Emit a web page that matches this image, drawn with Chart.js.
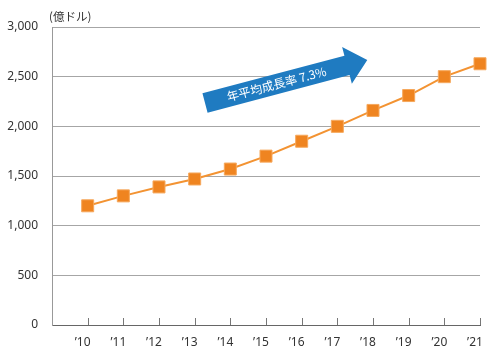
<!DOCTYPE html>
<html><head><meta charset="utf-8">
<script src="https://cdn.jsdelivr.net/npm/chart.js@4/dist/chart.umd.min.js"></script>
<style>html,body{margin:0;padding:0;background:#fff}#wrap{width:500px;height:358px}</style>
</head><body><div id="wrap"><canvas id="c" width="500" height="358"></canvas></div>
<script>
const years = [10, 11, 12, 13, 14, 15, 16, 17, 18, 19, 20, 21];
const yearLabels = ['’10', '’11', '’12', '’13', '’14', '’15', '’16', '’17', '’18', '’19', '’20', '’21'];
const values = [1200, 1300, 1390, 1470, 1570, 1700, 1850, 2000, 2160, 2310, 2500, 2630];
const yTicks = [0, 500, 1000, 1500, 2000, 2500, 3000];
const unitLabel = '(億ドル)';
const arrowText = '年平均成長率 7.3%';
// arrow anchor in data units (tail centre -> tip)
const arrowFrom = { x: 13.29, y: 2235 };
const arrowTo = { x: 17.84, y: 2668 };

const jpFont = '"Noto Sans CJK JP", "Noto Sans", sans-serif';
const numFont = '"Noto Sans", "Liberation Sans", sans-serif';

const deco = {
  id: 'deco',
  afterDraw(chart) {
    const { ctx, scales: { x, y }, chartArea } = chart;
    ctx.save();
    // upward tick marks on x axis
    ctx.strokeStyle = '#777';
    ctx.lineWidth = 1;
    years.forEach(v => {
      const px = Math.round(x.getPixelForValue(v)) + 0.5;
      ctx.beginPath();
      ctx.moveTo(px, chartArea.bottom);
      ctx.lineTo(px, chartArea.bottom - 7);
      ctx.stroke();
    });
    // unit label
    ctx.fillStyle = '#333';
    ctx.font = '11.5px ' + jpFont;
    ctx.textBaseline = 'middle';
    ctx.textAlign = 'left';
    ctx.fillText(unitLabel, 49, 17);
    // arrow
    const x0 = x.getPixelForValue(arrowFrom.x), y0 = y.getPixelForValue(arrowFrom.y);
    const x1 = x.getPixelForValue(arrowTo.x), y1 = y.getPixelForValue(arrowTo.y);
    const ang = Math.atan2(y1 - y0, x1 - x0);
    const len = Math.hypot(x1 - x0, y1 - y0);
    const bw = 10, hl = 21, hw = 19;
    ctx.translate(x0, y0);
    ctx.rotate(ang);
    ctx.fillStyle = '#1F7BC1';
    ctx.beginPath();
    ctx.moveTo(0, -bw);
    ctx.lineTo(len - hl, -bw);
    ctx.lineTo(len - hl, -hw);
    ctx.lineTo(len, 0);
    ctx.lineTo(len - hl, hw);
    ctx.lineTo(len - hl, bw);
    ctx.lineTo(0, bw);
    ctx.closePath();
    ctx.fill();
    ctx.fillStyle = '#fff';
    ctx.font = '12px ' + jpFont;
    ctx.textAlign = 'center';
    ctx.textBaseline = 'middle';
    ctx.fillText(arrowText, 74, 0);
    ctx.restore();
  }
};

new Chart(document.getElementById('c'), {
  type: 'line',
  data: {
    datasets: [{
      data: years.map((v, i) => ({ x: v, y: values[i] })),
      borderColor: '#F39332',
      borderWidth: 2,
      backgroundColor: '#EF8420',
      pointBackgroundColor: '#EF8420',
      pointBorderColor: '#F6A95E',
      pointBorderWidth: 1,
      pointStyle: 'rect',
      pointRadius: 8.5,
      tension: 0,
      clip: false
    }]
  },
  options: {
    responsive: false,
    animation: false,
    devicePixelRatio: 1,
    layout: { padding: { top: 27, right: 20, left: 0, bottom: 0 } },
    plugins: { legend: { display: false }, tooltip: { enabled: false } },
    scales: {
      x: {
        type: 'linear',
        min: 9, max: 21,
        afterBuildTicks(s) { s.ticks = [9].concat(years).map(v => ({ value: v })); },
        afterFit(s) { s.height = 33; },
        grid: { display: false },
        border: { display: true, color: '#666', width: 1 },
        ticks: {
          autoSkip: false,
          maxRotation: 0,
          padding: 2,
          labelOffset: -5,
          color: '#333',
          font: { family: numFont, size: 12 },
          callback: v => { const i = years.indexOf(v); return i >= 0 ? yearLabels[i] : ''; }
        }
      },
      y: {
        min: 0, max: 3000,
        afterBuildTicks(s) { s.ticks = yTicks.map(v => ({ value: v })); },
        afterFit(s) { s.width = 52; },
        grid: { color: '#A6A6A6', lineWidth: 1, drawTicks: false },
        border: { display: true, color: '#999', width: 1 },
        ticks: {
          padding: 14,
          color: '#333',
          font: { family: numFont, size: 12 },
          callback: v => v.toLocaleString('en-US')
        }
      }
    }
  },
  plugins: [deco]
});
</script></body></html>
